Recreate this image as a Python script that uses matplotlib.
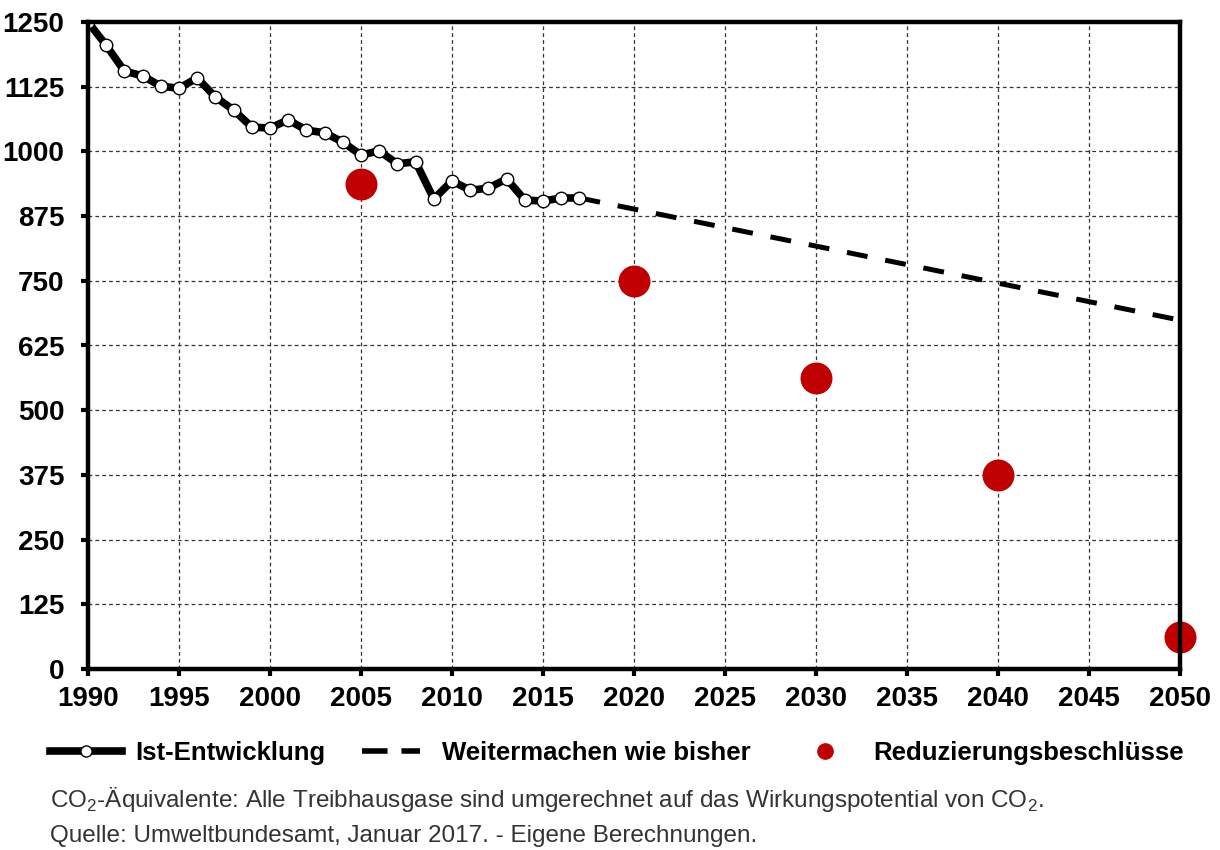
import matplotlib.pyplot as plt
from matplotlib.lines import Line2D

plt.rcParams['font.family'] = ['Liberation Sans', 'DejaVu Sans']
plt.rcParams['mathtext.fontset'] = 'custom'
plt.rcParams['mathtext.rm'] = 'Liberation Sans'

# Ist-Entwicklung (Mio. t CO2-Aequivalente)
ist_years = list(range(1990, 2018))
ist_values = [1250, 1205, 1155, 1146, 1126, 1122, 1142, 1105, 1080, 1047,
              1045, 1061, 1041, 1036, 1018, 993, 1001, 976, 980, 908,
              943, 925, 929, 947, 906, 904, 910, 910]

# Weitermachen wie bisher (Trendfortschreibung)
trend_years = [2017, 2050]
trend_values = [910, 674]

# Reduzierungsbeschluesse
ziel_years = [2005, 2020, 2030, 2040, 2050]
ziel_values = [937.5, 750, 562.5, 375, 62.5]

x_ticks = list(range(1990, 2051, 5))
y_ticks = list(range(0, 1251, 125))

fig = plt.figure(figsize=(12.2, 8.5), dpi=100)
ax = fig.add_axes([88 / 1220, 1 - 669 / 850, 1092 / 1220, 647 / 850])

ax.plot(trend_years, trend_values, color='black', lw=3.6, dashes=(4.2, 3.6),
        zorder=3, label='Weitermachen wie bisher')
ax.plot(ist_years, ist_values, color='black', lw=5.5, marker='o', ms=9,
        mfc='white', mec='black', mew=1.0, zorder=4, label='Ist-Entwicklung')
ax.plot(ziel_years, ziel_values, ls='none', marker='o', ms=23, color='#c00000',
        mec='none', zorder=5, clip_on=False, label='Reduzierungsbeschlüsse')

ax.set_xlim(1990, 2050)
ax.set_ylim(0, 1250)
ax.set_xticks(x_ticks)
ax.set_yticks(y_ticks)
ax.grid(True, ls=(0, (3, 2.5)), color='#333333', lw=0.9)
ax.set_axisbelow(True)
for s in ax.spines.values():
    s.set_linewidth(3.2)
    s.set_zorder(6)
ax.tick_params(direction='out', length=5, width=3, labelsize=20)
ax.tick_params(axis='x', pad=7)
ax.tick_params(axis='y', pad=12)
for lbl in ax.get_xticklabels() + ax.get_yticklabels():
    lbl.set_fontweight('bold')

# legend, three separate entries like in the original
h = ax.get_lines()
leg_kw = dict(frameon=False, borderpad=0, borderaxespad=0, loc='center left',
              prop={'weight': 'bold', 'size': 18.5})
fig.legend([Line2D([], [], color='black', lw=5.5, marker='o', ms=8, mfc='white',
                   mec='black', mew=1.0)], [h[1].get_label()],
           bbox_to_anchor=(50 / 1220, 1 - 753 / 850), handlelength=2.8,
           handletextpad=0.5, numpoints=1, **leg_kw)
fig.legend([Line2D([], [], color='black', lw=4, dashes=(4.6, 2.5))], [h[0].get_label()],
           bbox_to_anchor=(362 / 1220, 1 - 753 / 850), handlelength=2.26,
           handletextpad=0.85, **leg_kw)
fig.legend([Line2D([], [], ls='none', marker='o', ms=11, color='#c00000')], [h[2].get_label()],
           bbox_to_anchor=(800 / 1220, 1 - 753 / 850), handlelength=1.95,
           handletextpad=0.9, numpoints=1, **leg_kw)

fig.text(50 / 1220, 1 - 800 / 850,
         r'CO$_\mathrm{2}$-Äquivalente: Alle Treibhausgase sind umgerechnet auf das Wirkungspotential von CO$_\mathrm{2}$.',
         fontsize=17.5, color='#333333', va='center')
fig.text(50 / 1220, 1 - 836 / 850,
         'Quelle: Umweltbundesamt, Januar 2017. - Eigene Berechnungen.',
         fontsize=17.5, color='#333333', va='center')

fig.savefig('out.png', dpi=100)
